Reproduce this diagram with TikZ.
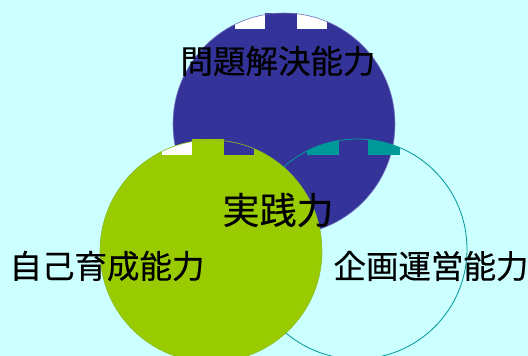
\documentclass[tikz,border=0pt]{standalone}
\usepackage{fontspec}
\newfontfamily\jp[FakeBold=0.4]{Noto Sans CJK JP}
\definecolor{bgcyan}{HTML}{CCFFFF}
\definecolor{cblue}{HTML}{333399}
\definecolor{cblueline}{HTML}{7777BB}
\definecolor{cgreen}{HTML}{99CC00}
\definecolor{cgreenline}{HTML}{88BB22}
\definecolor{cteal}{HTML}{009999}
\tikzset{
  lbl/.style={font=\jp\fontsize{32.5}{32.5}\selectfont, text=black, inner sep=0pt},
  biglbl/.style={font=\jp\fontsize{37}{37}\selectfont, text=black, inner sep=0pt},
}
\begin{document}
\begin{tikzpicture}[x=1pt,y=-1pt]
\useasboundingbox (0,0) rectangle (528,356);
\fill[bgcyan] (0,0) rectangle (528,356);
% blue circle
\fill[cblue] (284,124) circle (111);
\begin{scope}
  \clip (284,124) circle (111);
  \fill[white] (235,0) rectangle (265,29);
  \fill[white] (297,0) rectangle (327,29);
\end{scope}
\fill[cblue] (265,13) rectangle (297,29);
\draw[cblueline, line width=0.6pt] (284,124) circle (111);
% teal outline circle
\draw[cteal, line width=0.8pt] (357,249) circle (110);
\begin{scope}
  \clip (357,249) circle (110);
  \fill[cteal] (307,0) rectangle (339,155);
  \fill[cteal] (368,0) rectangle (400,155);
\end{scope}
% green circle
\fill[cgreen] (211,251) circle (111);
\begin{scope}
  \clip (211,251) circle (111);
  \fill[white] (162,0) rectangle (192,155);
  \fill[cblue] (224,0) rectangle (254,155);
\end{scope}
\fill[cgreen] (192,139) rectangle (224,155);
\draw[cgreenline, line width=0.6pt] (211,251) circle (111);
% labels
\node[lbl] (top) at (278,61) {問題解決能力};
\node[biglbl] (mid) at (278,210) {実践力};
\node[lbl] (left) at (107,266) {自己育成能力};
\node[lbl] (right) at (431,266) {企画運営能力};
\end{tikzpicture}
\end{document}
